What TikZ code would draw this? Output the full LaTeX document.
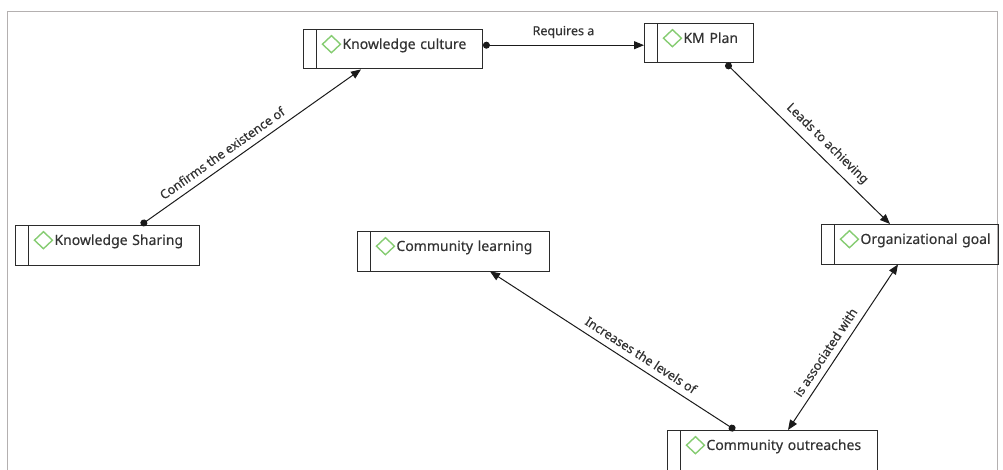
\documentclass[tikz,border=0pt]{standalone}
\usepackage{fontspec}
\newfontfamily\uifont[FakeBold=0.4]{Noto Sans}
\usetikzlibrary{arrows.meta}
\definecolor{framegray}{HTML}{B4B0B0}
\definecolor{boxgray}{HTML}{2B2B2B}
\definecolor{textgray}{HTML}{333333}
\definecolor{icongreen}{HTML}{86CC72}
\definecolor{linkblack}{HTML}{1A1A1A}

\begin{document}
\begin{tikzpicture}[
    x=1pt, y=-1pt,
    concept/.style={draw=boxgray, line width=0.9pt, anchor=north west, text width=#1,
      inner xsep=4pt, inner ysep=4pt, text height=15.5pt, text depth=16pt, align=left,
      text=textgray, font=\uifont\fontsize{14}{16}\selectfont,
      path picture={
        \draw[boxgray, line width=0.9pt] ([xshift=13pt]path picture bounding box.north west) -- ([xshift=13pt]path picture bounding box.south west);
        \draw[icongreen, line width=1.4pt] ([xshift=19pt,yshift=5pt]path picture bounding box.west) -- ++(9pt,8.5pt) -- ++(9pt,-8.5pt) -- ++(-9pt,-8.5pt) -- cycle;
      }},
    link/.style={linkblack, line width=1pt, {Circle[length=7pt]}-{Triangle[length=10pt,width=8pt]}},
    twoway/.style={linkblack, line width=1pt, {Triangle[length=10pt,width=8pt]}-{Triangle[length=10pt,width=8pt]}},
    linklabel/.style={sloped, above=4pt, inner sep=2.5pt, text=textgray, font=\uifont\fontsize{12.5}{14}\selectfont}
]
    \useasboundingbox (0,0) rectangle (1003,470);
    % frame
    \draw[framegray, line width=1.5pt] (7.5,470) -- (7.5,11.5) -- (997.5,11.5) -- (997.5,470);

    % concepts
    \node[concept=171pt] (kc) at (303,29) {\hspace*{35pt}Knowledge culture};
    \node[concept=101pt] (km) at (644,23) {\hspace*{35pt}KM Plan};
    \node[concept=176pt] (ks) at (15,225) {\hspace*{35pt}Knowledge Sharing};
    \node[concept=169pt] (og) at (821,224) {\hspace*{35pt}Organizational goal};
    \node[concept=184pt] (cl) at (357,231) {\hspace*{35pt}Community learning};
    \node[concept=202pt] (co) at (667,430) {\hspace*{35pt}Community outreaches};

    % links
    \draw[link] ([xshift=126pt]ks.north west) -- node[linklabel, pos=0.4] (l1) {Confirms the existence of} ([xshift=58pt]kc.south west);
    \draw[link] ([yshift=4pt]kc.east) -- node[linklabel] (l2) {Requires a} ([yshift=4pt]kc.east -| km.west);
    \draw[link] ([xshift=82pt]km.south west) -- node[linklabel, pos=0.56] (l3) {Leads to achieving} ([xshift=69pt]og.north west);
    \draw[link] ([xshift=68pt]co.north west) -- node[linklabel, pos=0.41] (l4) {Increases the levels of} ([xshift=133pt]cl.south west);
    \draw[twoway] ([xshift=77pt]og.south west) -- node[linklabel, pos=0.57] (l5) {is associated with} ([xshift=121pt]co.north west);
\end{tikzpicture}
\end{document}
